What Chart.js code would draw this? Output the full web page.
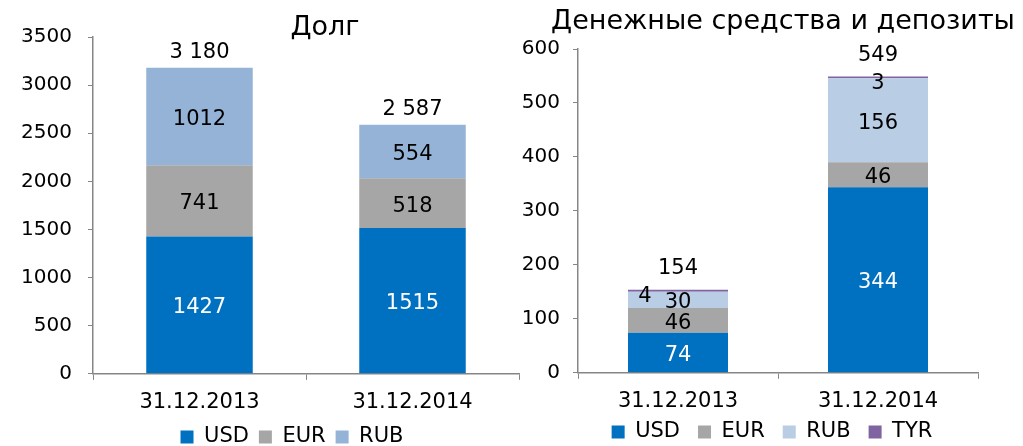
<!DOCTYPE html>
<html>
<head>
<meta charset="utf-8">
<script src="https://cdn.jsdelivr.net/npm/chart.js@4/dist/chart.umd.min.js"></script>
<style>
  html, body { margin: 0; background: #fff; overflow: hidden; }
  #wrap { position: relative; width: 1023px; height: 446px; overflow: hidden; }
  canvas { position: absolute; top: 0; }
</style>
</head>
<body>
<div id="wrap">
  <canvas id="debt" width="584" height="446" style="left:0"></canvas>
  <canvas id="cash" width="520" height="446" style="left:512px"></canvas>
</div>
<script>
// data
const dates = ['31.12.2013', '31.12.2014'];
const currencies = ['USD', 'EUR', 'RUB', 'TYR'];

const debtTitle = 'Долг';
const debtUSD = [1427, 1515];
const debtEUR = [741, 518];
const debtRUB = [1012, 554];

const cashTitle = 'Денежные средства и депозиты';
const cashUSD = [74, 344];
const cashEUR = [46, 46];
const cashRUB = [30, 156];
const cashTYR = [4, 3];

const debtMax = 3500, debtStep = 500;
const cashMax = 600, cashStep = 100;

const FONT = '"DejaVu Sans", Verdana, sans-serif';
Chart.defaults.font.family = FONT;
Chart.defaults.color = '#000';

function fmt(n) {
  return String(n).replace(/\B(?=(\d{3})+(?!\d))/g, ' ');
}

// values inside segments + totals on top
const barLabels = {
  id: 'barLabels',
  afterDatasetsDraw(chart, args, opts) {
    const ctx = chart.ctx;
    const dy = 3; // digits sit a bit high with 'middle'
    ctx.save();
    ctx.font = '21px ' + FONT;
    ctx.textAlign = 'center';
    ctx.textBaseline = 'middle';
    chart.data.labels.forEach((lab, i) => {
      let prevY = null, top = null, total = 0;
      chart.data.datasets.forEach((ds, d) => {
        const bar = chart.getDatasetMeta(d).data[i];
        const v = ds.data[i];
        total += v;
        const h = Math.abs(bar.base - bar.y);
        let x = bar.x, y = (bar.y + bar.base) / 2;
        if (h < 10) {
          y += 3;
          if (prevY !== null && prevY - y < 16) x -= 33;
        }
        ctx.fillStyle = d === 0 ? '#fff' : '#000';
        ctx.fillText(v, x, y + dy);
        prevY = y;
        top = bar.y;
      });
      ctx.fillStyle = '#000';
      ctx.fillText(fmt(total), chart.getDatasetMeta(0).data[i].x, top - opts.totalOffset + dy);
    });
    ctx.restore();
  }
};

// chart title drawn at a given centre
const chartTitle = {
  id: 'chartTitle',
  afterDraw(chart, args, opts) {
    const ctx = chart.ctx;
    ctx.save();
    ctx.font = opts.size + 'px ' + FONT;
    ctx.fillStyle = '#000';
    ctx.textAlign = 'center';
    ctx.textBaseline = 'middle';
    ctx.fillText(opts.text, opts.x, opts.y);
    ctx.restore();
  }
};

function makeChart(id, datasets, yMax, yStep, cfg) {
  return new Chart(document.getElementById(id), {
    type: 'bar',
    data: { labels: dates, datasets: datasets },
    plugins: [barLabels, chartTitle],
    options: {
      responsive: false,
      devicePixelRatio: 1,
      animation: false,
      layout: { padding: { left: 0, right: 0, top: cfg.padTop, bottom: cfg.padBottom } },
      datasets: { bar: { categoryPercentage: 1, barPercentage: 0.5 } },
      plugins: {
        title: { display: false },
        chartTitle: { text: cfg.title, x: cfg.titleX, y: cfg.titleY, size: 27 },
        barLabels: { totalOffset: cfg.totalOffset },
        legend: {
          position: 'bottom',
          labels: { boxWidth: 13, boxHeight: 13, font: { size: 21 }, padding: cfg.legendPad, color: '#000' },
          // empty legend title, only used to pull the row up when padding is wide
          title: { display: true, text: '', font: { size: 1 }, padding: { top: 10 - cfg.legendPad, bottom: 0 } }
        },
        tooltip: { enabled: false }
      },
      scales: {
        x: {
          stacked: true,
          grid: { drawOnChartArea: false, tickLength: 6, color: '#868686', offset: true },
          border: { color: '#868686', width: 1.5 },
          ticks: { font: { size: 21 }, padding: 10, color: '#000' },
          afterFit(s) { s.height = cfg.xHeight; }
        },
        y: {
          stacked: true,
          min: 0,
          max: yMax,
          grid: { drawOnChartArea: false, tickLength: 5, color: '#868686' },
          border: { color: '#868686', width: 1.5 },
          ticks: { stepSize: yStep, font: { size: 20 }, padding: cfg.tickPad, color: '#000', callback: v => String(v) },
          afterFit(s) { s.width = cfg.yWidth; }
        },
        // empty spacer on the right so the legend centres where the original does
        spacer: {
          type: 'linear',
          position: 'right',
          display: true,
          grid: { display: false },
          border: { display: false },
          ticks: { display: false },
          afterFit(s) { s.width = cfg.spacer; }
        }
      }
    }
  });
}

makeChart('debt', [
  { label: currencies[0], data: debtUSD, backgroundColor: '#0070C0' },
  { label: currencies[1], data: debtEUR, backgroundColor: '#A6A6A6' },
  { label: currencies[2], data: debtRUB, backgroundColor: '#95B3D7' }
], debtMax, debtStep, {
  title: debtTitle, titleX: 325, titleY: 28,
  padTop: 37, padBottom: -11.5, spacer: 65, legendPad: 10,
  yWidth: 93, tickPad: 16, xHeight: 41.5, totalOffset: 18.5
});

makeChart('cash', [
  { label: currencies[0], data: cashUSD, backgroundColor: '#0070C0' },
  { label: currencies[1], data: cashEUR, backgroundColor: '#A6A6A6' },
  { label: currencies[2], data: cashRUB, backgroundColor: '#B9CDE5' },
  { label: currencies[3], data: cashTYR, backgroundColor: '#8064A2' }
], cashMax, cashStep, {
  title: cashTitle, titleX: 271, titleY: 22,
  padTop: 49, padBottom: -6.5, spacer: 54, legendPad: 18,
  yWidth: 66, tickPad: 13, xHeight: 37.5, totalOffset: 24
});
</script>
</body>
</html>
